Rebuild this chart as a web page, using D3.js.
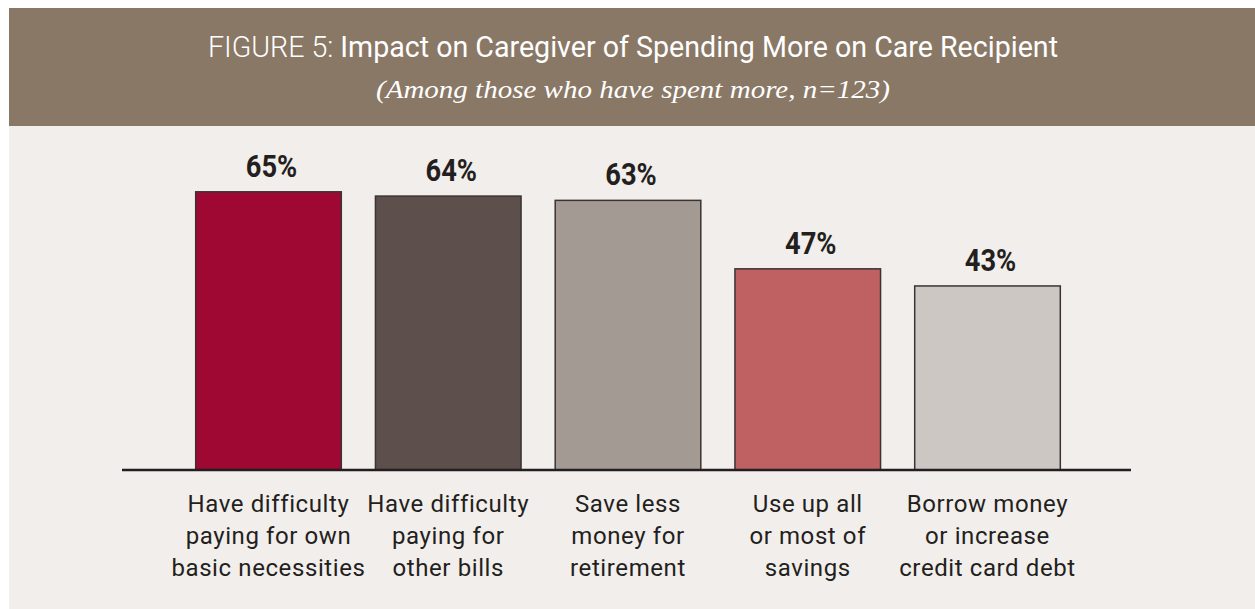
<!DOCTYPE html>
<html>
<head>
<meta charset="utf-8">
<script src="https://cdn.jsdelivr.net/npm/d3@7"></script>
<style>
  html, body { margin: 0; padding: 0; background: #ffffff; }
  svg { display: block; }
</style>
</head>
<body>
<svg id="chart" width="1255" height="609"></svg>
<script>
// ---- data ----
const categories = [
  "Have difficulty paying for own basic necessities",
  "Have difficulty paying for other bills",
  "Save less money for retirement",
  "Use up all or most of savings",
  "Borrow money or increase credit card debt"
];
const labelLines = [
  ["Have difficulty", "paying for own", "basic necessities"],
  ["Have difficulty", "paying for", "other bills"],
  ["Save less", "money for", "retirement"],
  ["Use up all", "or most of", "savings"],
  ["Borrow money", "or increase", "credit card debt"]
];
const values = [65, 64, 63, 47, 43];
const barColors = ["#9e0832", "#5d4f4b", "#a39a94", "#bf6163", "#ccc7c2"];
const titleLead = "FIGURE 5:";
const titleMain = "Impact on Caregiver of Spending More on Care Recipient";
const subtitle = "(Among those who have spent more, n=123)";

// ---- drawing ----
const svg = d3.select("#chart");
const W = 1255, H = 609;

svg.append("rect").attr("x", 9).attr("y", 8).attr("width", W - 9).attr("height", H - 8)
  .attr("fill", "#f2eeeb");
svg.append("rect").attr("x", 9).attr("y", 8).attr("width", W - 9).attr("height", 118)
  .attr("fill", "#8a7866");

const cx = (9 + W) / 2 + 1;
const title = svg.append("text")
  .attr("x", cx).attr("y", 57)
  .attr("text-anchor", "middle")
  .attr("fill", "#ffffff")
  .attr("textLength", 850)
  .attr("lengthAdjust", "spacingAndGlyphs")
  .style("font-family", "Roboto, 'Liberation Sans', sans-serif")
  .style("font-size", "30px");
title.append("tspan").style("font-weight", "300").text(titleLead + " ");
title.append("tspan").text(titleMain);

svg.append("text")
  .attr("x", cx).attr("y", 98)
  .attr("text-anchor", "middle")
  .attr("fill", "#ffffff")
  .attr("textLength", 514)
  .attr("lengthAdjust", "spacingAndGlyphs")
  .style("font-family", "'Liberation Serif', 'Times New Roman', serif")
  .style("font-style", "italic")
  .style("font-size", "25px")
  .text(subtitle);

const x = d3.scaleBand().domain(categories).range([122, 1134])
  .paddingInner(0.19).paddingOuter(0.41);
const y = d3.scaleLinear().domain([0, 100]).range([470, 42]);

const g = svg.append("g");
g.selectAll("rect.bar").data(values).join("rect")
  .attr("class", "bar")
  .attr("x", (d, i) => x(categories[i]))
  .attr("y", d => y(d))
  .attr("width", x.bandwidth())
  .attr("height", d => y(0) - y(d))
  .attr("fill", (d, i) => barColors[i])
  .attr("stroke", "#3b3333")
  .attr("stroke-width", 1.5);

g.selectAll("text.val").data(values).join("text")
  .attr("class", "val")
  .attr("transform", (d, i) =>
    `translate(${x(categories[i]) + x.bandwidth() / 2 + 3},${y(d) - 15}) scale(0.88,1)`)
  .attr("text-anchor", "middle")
  .attr("fill", "#231f20")
  .style("font-family", "Roboto, 'Liberation Sans', sans-serif")
  .style("font-weight", "bold")
  .style("font-size", "31px")
  .text(d => d + "%");

// baseline
svg.append("line")
  .attr("x1", 122).attr("x2", 1131)
  .attr("y1", y(0)).attr("y2", y(0))
  .attr("stroke", "#231f20").attr("stroke-width", 2.5);

// category labels
const lab = g.selectAll("text.cat").data(labelLines).join("text")
  .attr("class", "cat")
  .attr("text-anchor", "middle")
  .attr("fill", "#231f20")
  .style("font-family", "Roboto, 'Liberation Sans', sans-serif")
  .style("font-size", "24px")
  .style("letter-spacing", "0.6px");
lab.each(function(lines, i) {
  const t = d3.select(this);
  const cxx = x(categories[i]) + x.bandwidth() / 2;
  lines.forEach((ln, j) => {
    t.append("tspan").attr("x", cxx).attr("y", 512 + j * 32).text(ln);
  });
});
</script>
</body>
</html>
